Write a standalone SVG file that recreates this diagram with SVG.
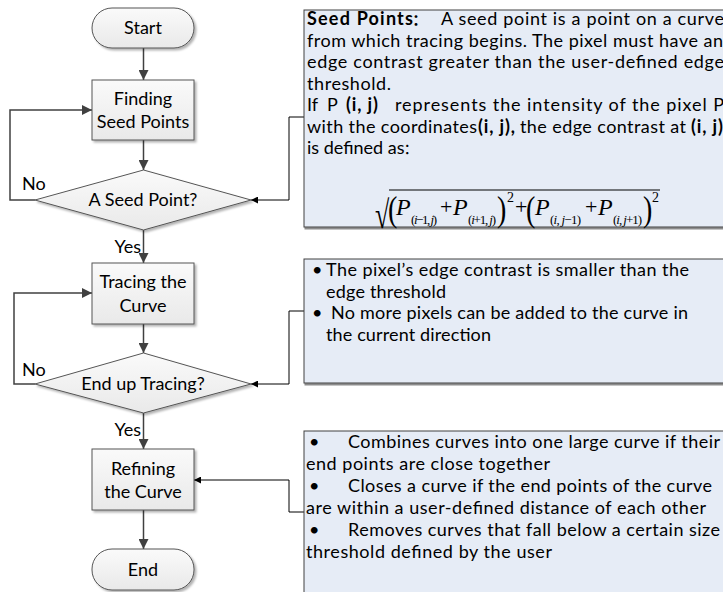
<svg xmlns="http://www.w3.org/2000/svg" width="723" height="592" viewBox="0 0 723 592">
  <style>
    .t { font-family: Lato, "Open Sans", "Liberation Sans", sans-serif; font-size: 18px; fill: #000; }
    .c { text-anchor: middle; }
    .b { font-weight: bold; }
    .cjk { font-family: "Noto Sans CJK SC", sans-serif; font-size: 15px; }
    .m { font-family: "Liberation Serif", "Times New Roman", serif; fill: #000; }
    .it { font-style: italic; }
    .shape { fill: url(#nodeFill); stroke: #555; stroke-width: 1; filter: url(#shadow); }
    .note { fill: #E6ECF6; stroke: #404040; stroke-width: 1; filter: url(#shadowNote); }
    .flow { fill: none; stroke: #404040; stroke-width: 1.5; }
    .link { fill: none; stroke: #000; stroke-width: 1; }
  </style>
  <defs>
    <linearGradient id="nodeFill" x1="0" y1="0" x2="0" y2="1">
      <stop offset="0" stop-color="#FAFAFA"/>
      <stop offset="1" stop-color="#E9E9E9"/>
    </linearGradient>
    <filter id="shadow" x="-10%" y="-10%" width="130%" height="130%">
      <feDropShadow dx="2" dy="2" stdDeviation="1" flood-color="#000" flood-opacity="0.3"/>
    </filter>
    <filter id="shadowNote" x="-5%" y="-5%" width="110%" height="110%">
      <feDropShadow dx="1" dy="2" stdDeviation="0.6" flood-color="#000" flood-opacity="0.45"/>
    </filter>
    <marker id="arrow" viewBox="0 0 10 10" refX="10" refY="5" markerWidth="10" markerHeight="10" markerUnits="userSpaceOnUse" orient="auto">
      <path d="M0,0 L10,5 L0,10 z" fill="#404040"/>
    </marker>
    <marker id="arrowSmall" viewBox="0 0 10 10" refX="10" refY="5" markerWidth="7" markerHeight="7" markerUnits="userSpaceOnUse" orient="auto">
      <path d="M0,0 L10,5 L0,10 z" fill="#000"/>
    </marker>
  </defs>

  <rect width="723" height="592" fill="#fff"/>

  <!-- connectors -->
  <g id="connectors">
    <line class="flow" x1="143.5" y1="48" x2="143.5" y2="80" marker-end="url(#arrow)"/>
    <line class="flow" x1="143.5" y1="140" x2="143.5" y2="170" marker-end="url(#arrow)"/>
    <line class="flow" x1="143.5" y1="230" x2="143.5" y2="263" marker-end="url(#arrow)"/>
    <line class="flow" x1="143.5" y1="324" x2="143.5" y2="353" marker-end="url(#arrow)"/>
    <line class="flow" x1="143.5" y1="413" x2="143.5" y2="449" marker-end="url(#arrow)"/>
    <line class="flow" x1="143.5" y1="510" x2="143.5" y2="549" marker-end="url(#arrow)"/>
    <!-- "No" loops back to the step above -->
    <polyline class="flow" points="35,200 10,200 10,110 92,110" marker-end="url(#arrow)"/>
    <polyline class="flow" points="35,384 14,384 14,293 92,293" marker-end="url(#arrow)"/>
    <!-- note brackets -->
    <polyline class="link" points="304,117 289,117 289,200 251,200" marker-end="url(#arrowSmall)"/>
    <polyline class="link" points="304,311 289,311 289,384 251,384" marker-end="url(#arrowSmall)"/>
    <polyline class="link" points="304,512 289,512 289,480 194,480" marker-end="url(#arrowSmall)"/>
    <!-- branch labels -->
    <text class="t" x="22" y="190">No</text>
    <text class="t" x="22" y="376">No</text>
    <text class="t" x="141" y="253" text-anchor="end">Yes</text>
    <text class="t" x="141" y="436" text-anchor="end">Yes</text>
  </g>

  <!-- flowchart nodes -->
  <g id="start">
    <rect class="shape" x="92" y="8" width="102" height="40" rx="20" ry="20"/>
    <text class="t c" x="143" y="34">Start</text>
  </g>
  <g id="find-seed">
    <rect class="shape" x="92" y="80" width="102" height="60"/>
    <text class="t c" x="143" y="105">Finding</text>
    <text class="t c" x="143" y="128">Seed Points</text>
  </g>
  <g id="seed-check">
    <polygon class="shape" points="143.5,170 251,200 143.5,230 35,200"/>
    <text class="t c" x="143" y="206">A Seed Point?</text>
  </g>
  <g id="trace-curve">
    <rect class="shape" x="92" y="263" width="102" height="61"/>
    <text class="t c" x="143" y="288">Tracing the</text>
    <text class="t c" x="143" y="312">Curve</text>
  </g>
  <g id="trace-check">
    <polygon class="shape" points="143.5,353 251,384 143.5,413 35,384"/>
    <text class="t c" x="143" y="390">End up Tracing?</text>
  </g>
  <g id="refine-curve">
    <rect class="shape" x="92" y="449" width="102" height="61"/>
    <text class="t c" x="143" y="475">Refining</text>
    <text class="t c" x="143" y="498">the Curve</text>
  </g>
  <g id="end">
    <rect class="shape" x="92" y="549" width="102" height="41" rx="20" ry="20"/>
    <text class="t c" x="143" y="576">End</text>
  </g>

  <!-- note: seed points -->
  <g id="note-seed">
    <rect class="note" x="304" y="10" width="440" height="217"/>
    <text class="t b" x="307" y="25" letter-spacing="1.2">Seed Points<tspan class="cjk" letter-spacing="0" dx="-2">：</tspan></text>
    <text class="t" x="441" y="25" textLength="283">A seed point is a point on a curve</text>
    <text class="t" x="307" y="46.5" textLength="416">from which tracing begins. The pixel must have an</text>
    <text class="t" x="307" y="68" textLength="417">edge contrast greater than the user-defined edge</text>
    <text class="t" x="307" y="89.5" textLength="84">threshold.</text>
    <text class="t" x="307" y="111" textLength="11">If</text>
    <text class="t" x="327" y="111">P</text>
    <text class="t b" x="346" y="111" textLength="32">(i, j)</text>
    <text class="t" x="395" y="111" textLength="329">represents the intensity of the pixel P</text>
    <text class="t" x="307" y="132.5" textLength="170">with the coordinates</text>
    <text class="t b" x="478" y="132.5" textLength="37">(i, j),</text>
    <text class="t" x="520" y="132.5" textLength="166">the edge contrast at</text>
    <text class="t b" x="691" y="132.5" textLength="32">(i, j)</text>
    <text class="t" x="307" y="154">is defined as<tspan class="cjk" dx="-1">：</tspan></text>
    <!-- edge contrast formula -->
    <text class="m" font-size="26" transform="translate(375,228) scale(1,1.5)">√</text>
    <line x1="389" y1="190" x2="660" y2="190" stroke="#000" stroke-width="1"/>
    <text class="m" font-size="28" transform="translate(388,221) scale(1,1.25)">(</text>
    <text class="m it" font-size="24" x="396" y="215">P</text>
    <text class="m" font-size="13" x="411" y="224" textLength="26">(<tspan class="it">i</tspan>−1, <tspan class="it">j</tspan>)</text>
    <text class="m" font-size="22" x="440" y="214">+</text>
    <text class="m it" font-size="24" x="453" y="215">P</text>
    <text class="m" font-size="13" x="468" y="224" textLength="28">(<tspan class="it">i</tspan>+1, <tspan class="it">j</tspan>)</text>
    <text class="m" font-size="28" transform="translate(497,221) scale(1,1.25)">)</text>
    <text class="m" font-size="14" x="507" y="202">2</text>
    <text class="m" font-size="22" x="515" y="214">+</text>
    <text class="m" font-size="28" transform="translate(526,221) scale(1,1.25)">(</text>
    <text class="m it" font-size="24" x="535" y="215">P</text>
    <text class="m" font-size="13" x="550" y="224" textLength="31">(<tspan class="it">i</tspan>, <tspan class="it">j</tspan>−1)</text>
    <text class="m" font-size="22" x="585" y="214">+</text>
    <text class="m it" font-size="24" x="598" y="215">P</text>
    <text class="m" font-size="13" x="613" y="224" textLength="29">(<tspan class="it">i</tspan>, <tspan class="it">j</tspan>+1)</text>
    <text class="m" font-size="28" transform="translate(643,221) scale(1,1.25)">)</text>
    <text class="m" font-size="14" x="652" y="202">2</text>
  </g>

  <!-- note: end of tracing -->
  <g id="note-trace">
    <rect class="note" x="304" y="259" width="440" height="124"/>
    <text class="t" x="312" y="276">•</text>
    <text class="t" x="326" y="276" textLength="363">The pixel’s edge contrast  is smaller than the</text>
    <text class="t" x="326" y="297.5" textLength="120">edge threshold</text>
    <text class="t" x="312" y="319">•</text>
    <text class="t" x="331" y="319" textLength="357">No more pixels can be added to the curve in</text>
    <text class="t" x="326" y="340.5" textLength="165">the current direction</text>
  </g>

  <!-- note: refining -->
  <g id="note-refine">
    <rect class="note" x="304" y="431" width="440" height="200"/>
    <text class="t" x="309" y="448">•</text>
    <text class="t" x="348" y="448" textLength="372">Combines curves into one large curve if their</text>
    <text class="t" x="306" y="470" textLength="244">end points are close together</text>
    <text class="t" x="309" y="492">•</text>
    <text class="t" x="348" y="492" textLength="364">Closes a curve if the end points of the curve</text>
    <text class="t" x="306" y="514" textLength="400">are within a user-defined distance of each other</text>
    <text class="t" x="309" y="536">•</text>
    <text class="t" x="348" y="536" textLength="372">Removes curves that fall below a certain size</text>
    <text class="t" x="306" y="558" textLength="246">threshold defined by the user</text>
  </g>
</svg>
